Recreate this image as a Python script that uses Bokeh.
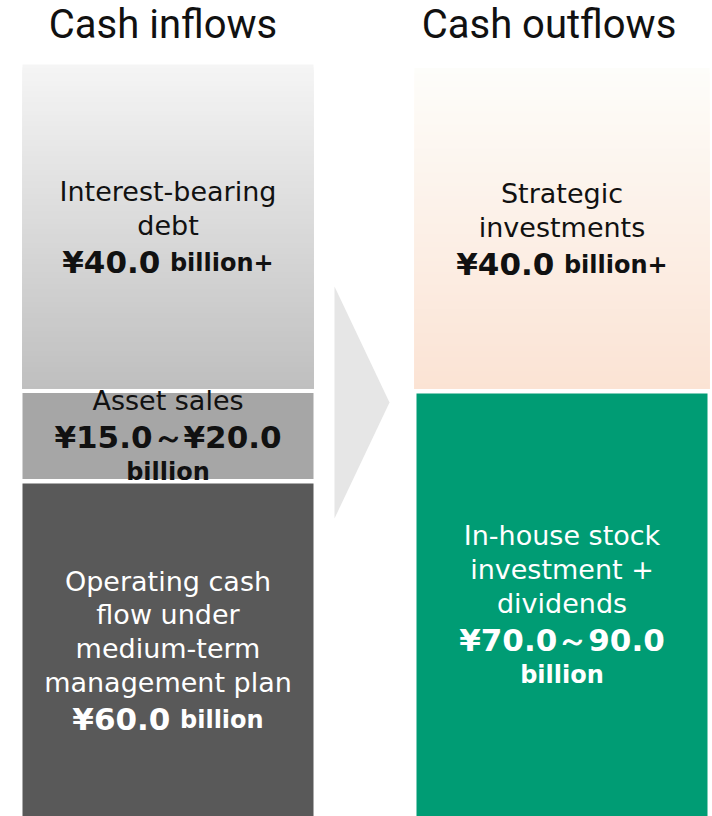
import numpy as np
from bokeh.plotting import figure
from bokeh.models import Range1d, ColumnDataSource
from bokeh.core.properties import value
from bokeh.embed import file_html
from bokeh.resources import INLINE

# ---------------- data ----------------
titles = ["Cash inflows", "Cash outflows"]

# inflows, bottom to top
inflow_labels = ["Operating cash\nflow under\nmedium-term\nmanagement plan",
                 "Asset sales",
                 "Interest-bearing\ndebt"]
inflow_amounts = ["¥60.0", "¥15.0～¥20.0", "¥40.0"]
inflow_units = ["billion", "billion", "billion+"]
inflow_unit_inline = [True, False, True]
inflow_sizes = [333, 86, 324]          # drawn block heights

# outflows, bottom to top
outflow_labels = ["In-house stock\ninvestment +\ndividends",
                  "Strategic\ninvestments"]
outflow_amounts = ["¥70.0～90.0", "¥40.0"]
outflow_units = ["billion", "billion+"]
outflow_unit_inline = [False, True]
outflow_sizes = [423, 321]

# ---------------- styles ----------------
W, H = 712, 816
GAP = 4.5
LEFT_X = (22, 313)
RIGHT_X = (414, 709)
FONT = "DejaVu Sans"
TITLE_FONT = "Roboto"
inflow_styles = [
    dict(kind="solid", color="#595959", text="#ffffff"),
    dict(kind="solid", color="#a6a6a6", text="#111111"),
    dict(kind="grad", c0="#f5f5f5", c1="#bfbfbf", text="#111111"),
]
outflow_styles = [
    dict(kind="solid", color="#009c74", text="#ffffff", inset=2),
    dict(kind="grad", c0="#fdfdfa", c1="#fbe3d4", text="#111111"),
]

BOLD_W = {"¥": 0.696, ".": 0.380, "b": 0.716, "i": 0.343, "l": 0.343,
          "o": 0.687, "n": 0.712, "+": 0.838, " ": 0.348}


def bold_width(s, size):
    return sum(BOLD_W.get(c, 0.696) for c in s) * size


def hex2rgb(h):
    h = h.lstrip("#")
    return np.array([int(h[i:i + 2], 16) for i in (0, 2, 4)], dtype=float)


def rgb2hex(c):
    return "#%02x%02x%02x" % tuple(int(round(v)) for v in c)


p = figure(width=W, height=H, x_range=Range1d(0, W), y_range=Range1d(0, H),
           output_backend="svg", toolbar_location=None, min_border=0,
           x_axis_type=None, y_axis_type=None)
p.grid.visible = False
p.outline_line_color = None
p.background_fill_color = "white"
p.border_fill_color = "white"

# arrow
p.patch(x=[334, 389, 334], y=[530, 414, 298], fill_color="#e6e6e6", line_color=None)

REG = 27
AMT = 31
UNIT = 24
LS = 33.8
AMT_GAP = 36.5
UNIT_GAP = 35

reg_txt = dict(x=[], y=[], t=[], c=[])
amt_txt = dict(x=[], y=[], t=[], c=[], a=[])
unit_txt = dict(x=[], y=[], t=[], c=[], a=[])


def draw_column(xr, labels, amounts, units, inline, sizes, styles):
    bottom = 0.0
    for lab, amt, unit, inl, size, st in zip(labels, amounts, units, inline, sizes, styles):
        top = bottom + size
        ins = st.get("inset", 0)
        x0, x1 = xr[0] + ins, xr[1] - ins
        if st["kind"] == "solid":
            p.quad(left=x0, right=x1, bottom=bottom, top=top,
                   fill_color=st["color"], line_color=None)
        else:
            n = 120
            tops = np.linspace(top, bottom, n + 1)[:-1]
            c0, c1 = hex2rgb(st["c0"]), hex2rgb(st["c1"])
            cols = [rgb2hex(c0 + (c1 - c0) * (i + 0.5) / n) for i in range(n)]
            # nested strips, largest first, so no seams appear
            p.quad(left=x0, right=x1, top=tops, bottom=bottom,
                   fill_color=cols, line_color=None)
        # text layout
        lines = lab.split("\n")
        offs = [i * LS for i in range(len(lines))]
        amt_off = offs[-1] + AMT_GAP
        last = amt_off
        unit_off = None
        if not inl:
            unit_off = amt_off + UNIT_GAP
            last = unit_off
        center = (bottom + top) / 2
        start = center + last / 2
        cx = (xr[0] + xr[1]) / 2
        for ln, o in zip(lines, offs):
            reg_txt["x"].append(cx); reg_txt["y"].append(start - o)
            reg_txt["t"].append(ln); reg_txt["c"].append(st["text"])
        if inl:
            wa = bold_width(amt, AMT)
            wu = bold_width(unit, UNIT)
            sp = 0.40 * UNIT
            left = cx - (wa + sp + wu) / 2
            amt_txt["x"].append(left); amt_txt["a"].append("left")
            unit_txt["x"].append(left + wa + sp); unit_txt["a"].append("left")
            amt_txt["y"].append(start - amt_off); unit_txt["y"].append(start - amt_off - 1)
        else:
            amt_txt["x"].append(cx); amt_txt["a"].append("center")
            unit_txt["x"].append(cx); unit_txt["a"].append("center")
            amt_txt["y"].append(start - amt_off); unit_txt["y"].append(start - unit_off)
        amt_txt["t"].append(amt); amt_txt["c"].append(st["text"])
        unit_txt["t"].append(unit); unit_txt["c"].append(st["text"])
        bottom = top + GAP


draw_column(LEFT_X, inflow_labels, inflow_amounts, inflow_units,
            inflow_unit_inline, inflow_sizes, inflow_styles)
draw_column(RIGHT_X, outflow_labels, outflow_amounts, outflow_units,
            outflow_unit_inline, outflow_sizes, outflow_styles)

p.text(x="x", y="y", text="t", source=ColumnDataSource(reg_txt),
       text_color="c", text_font=value(FONT), text_font_size=value(f"{REG}px"),
       text_align="center", text_baseline="middle")
p.text(x="x", y="y", text="t", source=ColumnDataSource(amt_txt),
       text_color="c", text_font=value(FONT), text_font_size=value(f"{AMT}px"),
       text_font_style="bold", text_align="a", text_baseline="middle")
p.text(x="x", y="y", text="t", source=ColumnDataSource(unit_txt),
       text_color="c", text_font=value(FONT), text_font_size=value(f"{UNIT}px"),
       text_font_style="bold", text_align="a", text_baseline="middle")

# titles
title_x = [(LEFT_X[0] + LEFT_X[1]) / 2 - 5, (RIGHT_X[0] + RIGHT_X[1]) / 2 - 13]
p.text(x=title_x, y=[792, 792], text=titles, text_font=value(TITLE_FONT),
       text_font_size=value("40px"), text_color="#111111",
       text_align="center", text_baseline="middle")

open("out.html", "w").write(file_html(p, INLINE))
